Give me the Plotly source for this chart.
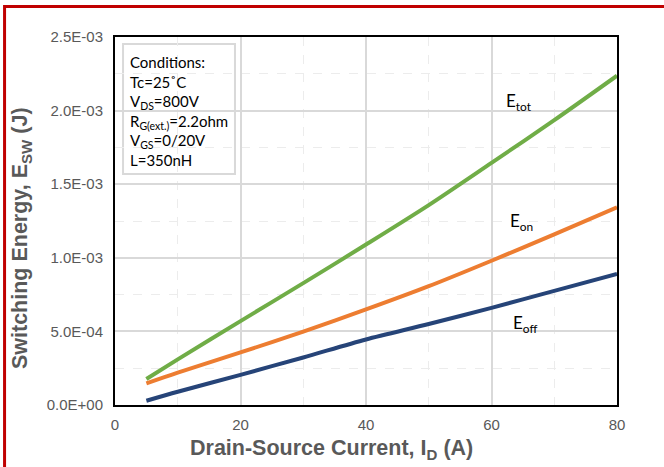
import plotly.graph_objects as go

current_a = [5, 10, 20, 30, 40, 50, 60, 70, 80]
e_tot = [1.77e-4, 3.10e-4, 5.70e-4, 8.28e-4, 1.090e-3, 1.358e-3, 1.645e-3, 1.935e-3, 2.237e-3]
e_on = [1.47e-4, 2.20e-4, 3.57e-4, 4.99e-4, 6.49e-4, 8.07e-4, 9.80e-4, 1.159e-3, 1.343e-3]
e_off = [2.9e-5, 9.0e-5, 2.05e-4, 3.23e-4, 4.45e-4, 5.50e-4, 6.60e-4, 7.75e-4, 8.90e-4]

y_tickvals = [0, 5e-4, 1e-3, 1.5e-3, 2e-3, 2.5e-3]
y_ticktext = ["0.0E+00", "5.0E-04", "1.0E-03", "1.5E-03", "2.0E-03", "2.5E-03"]
x_tickvals = [0, 20, 40, 60, 80]

x_title = "Drain-Source Current, I<sub>D</sub> (A)"
y_title = "Switching Energy, E<sub>SW</sub> (J)"

series = [
    ("E<sub>tot</sub>", e_tot, "#70ad47", 62.0, 2.06e-3),
    ("E<sub>on</sub>", e_on, "#ed7d31", 62.7, 1.245e-3),
    ("E<sub>off</sub>", e_off, "#264478", 63.1, 5.50e-4),
]

conditions = ("Conditions:<br>Tc=25\u02daC<br>V<sub>DS</sub>=800V<br>"
              "R<sub>G(ext.)</sub>=2.2ohm<br>V<sub>GS</sub>=0/20V<br>L=350nH")

title_font = dict(family="Liberation Sans", size=21.5, color="#595959", weight="bold")
tick_font = dict(family="Liberation Sans", size=15, color="#595959")

fig = go.Figure()
for name, vals, color, lx, ly in series:
    fig.add_trace(go.Scatter(x=current_a, y=vals, mode="lines", name=name,
                             line=dict(color=color, width=4, shape="spline", smoothing=0.8),
                             showlegend=False))
    fig.add_annotation(x=lx, y=ly, xref="x", yref="y", text=name, showarrow=False,
                       xanchor="left", yanchor="middle",
                       font=dict(family="Lato", size=17, color="#000000"))

fig.add_annotation(x=0.026, y=0.962, xref="paper", yref="paper", text=conditions,
                   showarrow=False, xanchor="left", yanchor="top", align="left",
                   font=dict(family="Lato", size=15, color="#000000"))

fig.add_annotation(x=0.432, y=-0.12, xref="paper", yref="paper", text=x_title,
                   showarrow=False, xanchor="center", yanchor="middle", font=title_font)
fig.add_annotation(x=-0.185, y=0.454, xref="paper", yref="paper", text=y_title,
                   showarrow=False, xanchor="center", yanchor="middle", textangle=-90,
                   font=title_font)

fig.update_layout(
    width=664, height=467,
    margin=dict(l=115, r=47, t=37, b=62),
    paper_bgcolor="white", plot_bgcolor="white",
    shapes=[
        dict(type="rect", xref="paper", yref="paper", x0=0.016, x1=0.239, y0=0.628, y1=0.981,
             line=dict(color="#d9d9d9", width=2), fillcolor="white", layer="below"),
        dict(type="rect", xref="paper", yref="paper", x0=-0.220, x1=2, y0=-1, y1=1.083,
             line=dict(color="#c00000", width=3), fillcolor="rgba(0,0,0,0)"),
    ],
)
fig.update_xaxes(
    range=[0, 80], tickvals=x_tickvals, showline=True, linecolor="black", linewidth=2,
    mirror=True, showgrid=True, gridcolor="#d9d9d9", gridwidth=1.5, zeroline=False,
    minor=dict(dtick=10, showgrid=True, gridcolor="#ececec", griddash="dash", gridwidth=1),
    tickfont=tick_font, ticklabelstandoff=5,
)
fig.update_yaxes(
    range=[0, 2.5e-3], tickvals=y_tickvals, ticktext=y_ticktext, showline=True,
    linecolor="black", linewidth=2, mirror=True, showgrid=True, gridcolor="#d9d9d9",
    gridwidth=1.5, zeroline=False,
    minor=dict(dtick=2.5e-4, showgrid=True, gridcolor="#ececec", griddash="dash", gridwidth=1),
    tickfont=tick_font, ticklabelstandoff=7,
)
fig.write_html("out.html", config={"displayModeBar": False},
               post_script="document.body.style.margin='0px';")
